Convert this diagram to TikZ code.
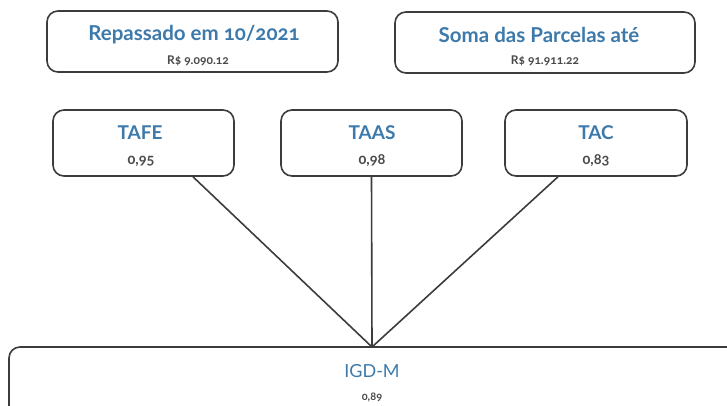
\documentclass[tikz,border=0pt]{standalone}
\usepackage{fontspec}
\setmainfont{Lato}[Numbers=OldStyle]
\definecolor{titleblue}{HTML}{3D7AAB}
\definecolor{subgray}{HTML}{4A4A4A}
\definecolor{edgegray}{HTML}{3C3C3C}
\tikzset{
  box/.style={draw=edgegray, line width=1.6pt, rounded corners=11pt, fill=white, inner sep=0pt},
  ttl/.style={text=titleblue, font=\fontsize{20.5}{22}\selectfont\bfseries, inner sep=0pt, anchor=center},
  rowttl/.style={text=titleblue, font=\fontsize{19}{21}\selectfont\bfseries, inner sep=0pt, anchor=center},
  smallnum/.style={text=subgray, font=\fontsize{12}{14}\selectfont\bfseries, inner sep=0pt, anchor=center},
  rownum/.style={text=subgray, font=\fontsize{14.5}{16}\selectfont\bfseries, inner sep=0pt, anchor=center},
  conn/.style={draw=edgegray, line width=1.6pt}
}
\begin{document}
\begin{tikzpicture}[x=1pt, y=-1pt]
\useasboundingbox (0,0) rectangle (727,406);
\clip (0,0) rectangle (727,406);
% top boxes
\node[box, minimum width=291pt, minimum height=61pt] (rep) at (192.5,41.5) {};
\node[ttl] (repT) at (194,35) {Repassado em 10/2021};
\node[smallnum] (repV) at (198,61) {R\$ 9.090.12};
\node[box, minimum width=300pt, minimum height=61pt] (soma) at (545,42.5) {};
\node[ttl] (somaT) at (539,35) {Soma das Parcelas até};
\node[smallnum] (somaV) at (545,61) {R\$ 91.911.22};
% middle boxes
\node[box, minimum width=181pt, minimum height=66pt] (tafe) at (143.5,143) {};
\node[rowttl] (tafeT) at (140,133) {TAFE};
\node[rownum] (tafeV) at (141,161) {0,95};
\node[box, minimum width=181pt, minimum height=66pt] (taas) at (371.5,143) {};
\node[rowttl] (taasT) at (372,133) {TAAS};
\node[rownum] (taasV) at (372,161) {0,98};
\node[box, minimum width=182pt, minimum height=66pt] (tac) at (596,143) {};
\node[rowttl] (tacT) at (596,133) {TAC};
\node[rownum] (tacV) at (596,161) {0,83};
% bottom box
\node[box, minimum width=740pt, minimum height=80pt] (igd) at (379,387) {};
\node[ttl, font=\fontsize{18}{20}\selectfont] (igdT) at (372,371) {IGD-M};
\node[smallnum, font=\fontsize{11}{13}\selectfont\bfseries] (igdV) at (372,398) {0,89};
\coordinate (meet) at (372,347);
% connectors
\draw[conn] ([xshift=49.5pt]tafe.south) -- (meet);
\draw[conn] (taas.south) -- (meet);
\draw[conn] ([xshift=-38pt]tac.south) -- (meet);
\end{tikzpicture}
\end{document}
